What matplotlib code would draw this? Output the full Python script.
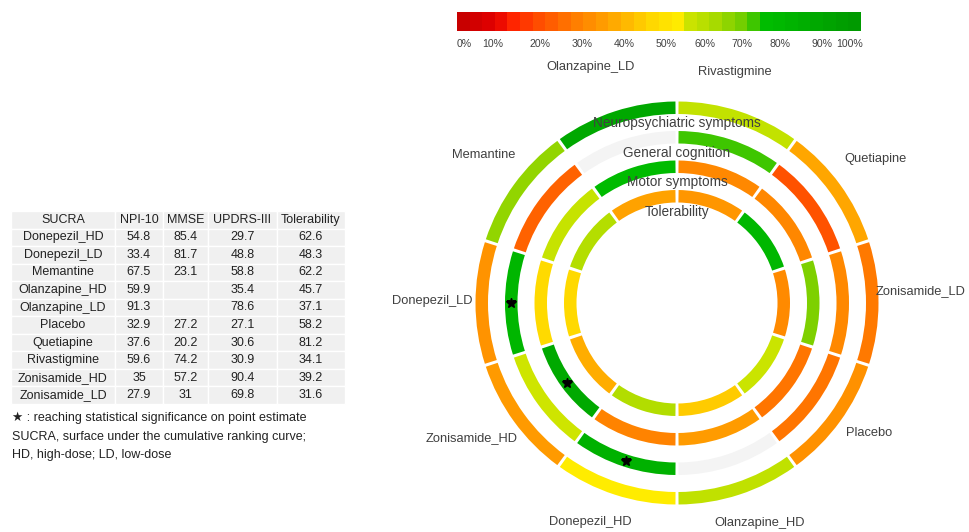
import numpy as np
import matplotlib.pyplot as plt
from matplotlib.colors import LinearSegmentedColormap, ListedColormap

plt.rcParams['font.family'] = ['Liberation Sans', 'DejaVu Sans']

# SUCRA values (%) per treatment, alphabetical like the table
treatments = ['Donepezil_HD', 'Donepezil_LD', 'Memantine', 'Olanzapine_HD', 'Olanzapine_LD',
              'Placebo', 'Quetiapine', 'Rivastigmine', 'Zonisamide_HD', 'Zonisamide_LD']
npi10 = [54.8, 33.4, 67.5, 59.9, 91.3, 32.9, 37.6, 59.6, 35.0, 27.9]
mmse = [85.4, 81.7, 23.1, None, None, 27.2, 20.2, 74.2, 57.2, 31.0]
updrs3 = [29.7, 48.8, 58.8, 35.4, 78.6, 27.1, 30.6, 30.9, 90.4, 69.8]
tolerability = [62.6, 48.3, 62.2, 45.7, 37.1, 58.2, 81.2, 34.1, 39.2, 31.6]

table_columns = ['SUCRA', 'NPI-10', 'MMSE', 'UPDRS-III', 'Tolerability']
outcomes = ['Neuropsychiatric symptoms', 'General cognition', 'Motor symptoms', 'Tolerability']

# segment order around the rings, clockwise from 12 o'clock
ring_order = ['Rivastigmine', 'Quetiapine', 'Zonisamide_LD', 'Placebo', 'Olanzapine_HD',
              'Donepezil_HD', 'Zonisamide_HD', 'Donepezil_LD', 'Memantine', 'Olanzapine_LD']

# (treatment, outcome index) reaching significance on point estimate
significant = [('Donepezil_LD', 1), ('Donepezil_HD', 1), ('Zonisamide_HD', 2)]

colorbar_ticks = [0, 10, 20, 30, 40, 50, 60, 70, 80, 90, 100]

notes = ['\u2605 : reaching statistical significance on point estimate',
         'SUCRA, surface under the cumulative ranking curve;',
         'HD, high-dose; LD, low-dose']

# ---- layout (pixels) ----
W, H = 969, 532
cx, cy, R = 677, 303, 210
ring_bottoms = [189, 159.5, 130, 100.5]
ring_height = 12.5
gap_px = 3.0
label_r = 240
# small per-label nudges (px) in ring_order
label_nudge = [(-16, -3), (4, -3), (4, -12), (-2, -11), (8, -8),
               (-13, -9), (-11, -6), (-5, -2), (1, -7), (-12, -8)]
text_color = '#404040'

cmap = LinearSegmentedColormap.from_list('sucra', [
    (0.00, '#c80000'), (0.08, '#e40000'), (0.12, '#ff2000'), (0.20, '#ff5200'),
    (0.30, '#ff8400'), (0.40, '#ffb000'), (0.48, '#ffd800'), (0.55, '#ffec00'),
    (0.565, '#d2e600'), (0.65, '#a6da00'), (0.72, '#6ccc00'), (0.77, '#00be00'),
    (1.00, '#009a00')])
missing_color = '#f4f4f4'

fig = plt.figure(figsize=(W / 100, H / 100), dpi=100)

# ---- rings ----
ax = fig.add_axes([(cx - R) / W, (H - cy - R) / H, 2 * R / W, 2 * R / H], projection='polar')
ax.set_theta_zero_location('N')
ax.set_theta_direction(-1)
ax.set_ylim(0, R)
ax.axis('off')

series = [npi10, mmse, updrs3, tolerability]
step = 2 * np.pi / len(ring_order)
theta = np.arange(len(ring_order)) * step + step / 2
idx = [treatments.index(t) for t in ring_order]

for k, values in enumerate(series):
    vals = [values[i] for i in idx]
    colors = [missing_color if v is None else cmap(v / 100) for v in vals]
    r_mid = ring_bottoms[k] + ring_height / 2
    ax.bar(theta, ring_height, width=step - gap_px / r_mid, bottom=ring_bottoms[k],
           color=colors, linewidth=0)
    ax.text(0, ring_bottoms[k] - 9, outcomes[k], ha='center', va='center',
            fontsize=9.8, color=text_color, zorder=5)

for name, k in significant:
    i = ring_order.index(name)
    ax.plot(theta[i], ring_bottoms[k] + ring_height / 2, marker='*', color='black',
            markersize=7, zorder=6)

for i, name in enumerate(ring_order):
    dx, dy = label_nudge[i]
    ax.annotate(name, (theta[i], label_r), xytext=(dx * 0.72, -dy * 0.72),
                textcoords='offset points', ha='center', va='center',
                fontsize=9.3, color=text_color, annotation_clip=False)

# ---- colour scale ----
cax = fig.add_axes([457 / W, 1 - 31 / H, 404 / W, 19 / H])
blocks = ListedColormap(cmap(np.linspace(0, 1, 32)))
cax.imshow(np.linspace(0, 1, 32)[None, :], cmap=blocks, aspect='auto', extent=[0, 100, 0, 1])
cax.axis('off')
tick_x = [1.7, 8.9, 20.5, 30.9, 41.3, 51.7, 61.4, 70.5, 80.0, 90.3, 97.2]
for t, x in zip(colorbar_ticks, tick_x):
    cax.text(x, -0.68, f'{t}%', transform=cax.get_xaxis_transform(),
             ha='center', va='center', fontsize=7.6, color=text_color)

# ---- SUCRA table ----
tax = fig.add_axes([11 / W, 1 - 404 / H, 334 / W, 193 / H])
tax.axis('off')
cells = []
for i, name in enumerate(treatments):
    row = [name]
    for values in series:
        v = values[i]
        row.append('' if v is None else f'{v:g}')
    cells.append(row)
tbl = tax.table(cellText=cells, colLabels=table_columns, cellLoc='center',
                bbox=[0, 0, 1, 1], colWidths=[104, 48, 45, 69, 68])
tbl.auto_set_font_size(False)
for cell in tbl.get_celld().values():
    cell.set_facecolor('#f0f0f0')
    cell.set_edgecolor('white')
    cell.set_linewidth(1)
    cell.get_text().set_fontsize(9)
    cell.get_text().set_color('#222222')

for y, line in zip([418, 437, 455], notes):
    fig.text(12 / W, 1 - y / H, line, ha='left', va='center', fontsize=9, color='#222222')

fig.savefig('out.png', dpi=100)
